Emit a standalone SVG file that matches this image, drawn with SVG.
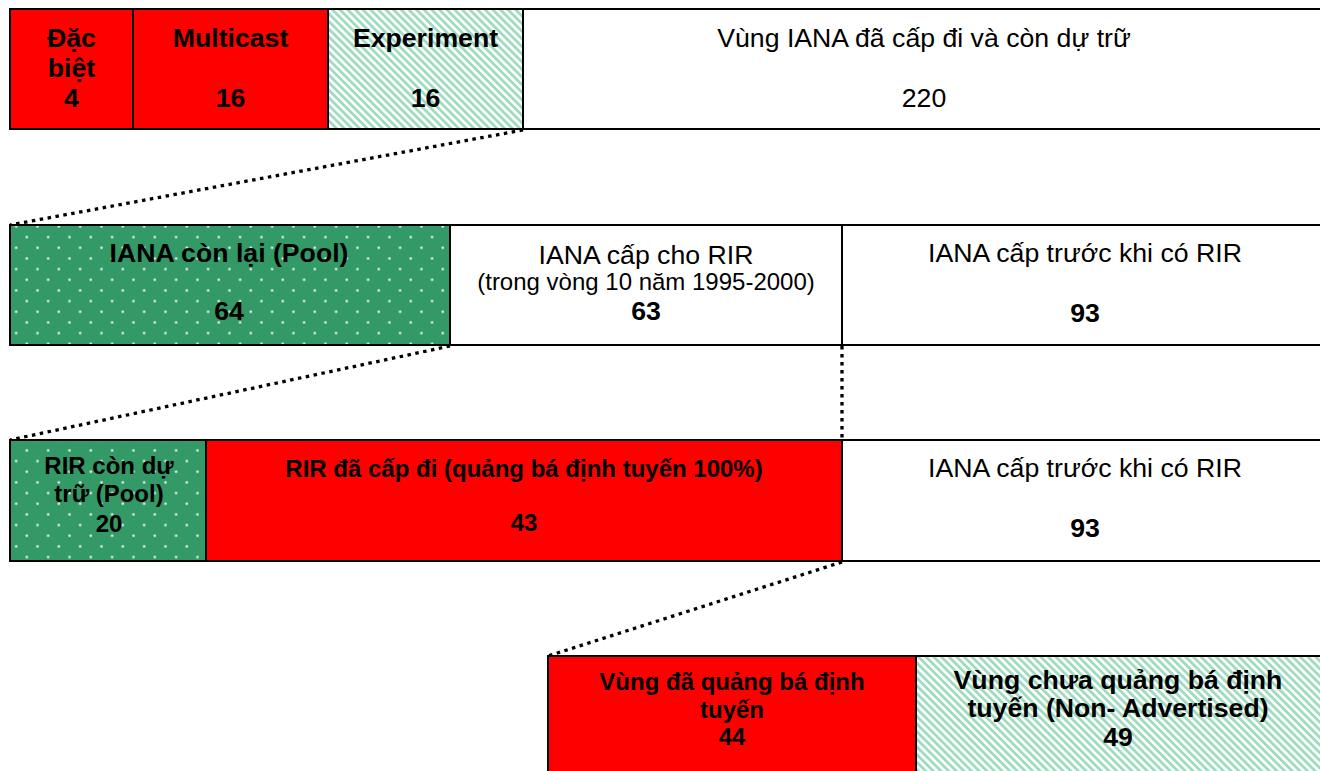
<svg xmlns="http://www.w3.org/2000/svg" width="1320" height="771" viewBox="0 0 1320 771">
<defs>
<pattern id="dots" width="21.33" height="21.33" patternUnits="userSpaceOnUse">
<rect width="21.33" height="21.33" fill="#339966"/>
<circle cx="5.5" cy="2.5" r="1.3" fill="#dff2e7"/>
<circle cx="16.17" cy="13.17" r="1.3" fill="#dff2e7"/>
</pattern>
<pattern id="hatch" width="5.4" height="5.4" patternUnits="userSpaceOnUse" patternTransform="rotate(-45)">
<rect width="5.4" height="5.4" fill="#ffffff"/>
<rect width="2.8" height="5.4" fill="#9fdcbf"/>
</pattern>
<style>
.box{stroke:#000;stroke-width:2}
.red{fill:#ff0000}
.white{fill:#ffffff}
.dot{fill:url(#dots)}
.hat{fill:url(#hatch)}
.b{font-family:"Liberation Sans",Arial,sans-serif;font-weight:bold;text-anchor:middle;fill:#000}
.r{font-family:"Liberation Sans",Arial,sans-serif;text-anchor:middle;fill:#000}
.f20{font-size:26.67px}
.f18{font-size:24px}
.conn{stroke:#000;stroke-width:3.3;stroke-dasharray:3.5 4.5;fill:none}
</style>
</defs>

<g id="connectors">
<line class="conn" x1="523" y1="130" x2="10" y2="225"/>
<line class="conn" x1="450" y1="346" x2="10" y2="440"/>
<line class="conn" x1="842" y1="346" x2="842" y2="440"/>
<line class="conn" x1="842" y1="562" x2="548" y2="656"/>
</g>

<!-- Row 1 -->
<g id="dac-biet">
<rect class="box red" x="10" y="9" width="123" height="120"/>
<text class="b f20" x="71.5" y="47">Đặc</text>
<text class="b f20" x="71.5" y="77">biệt</text>
<text class="b f20" x="71.5" y="107">4</text>
</g>
<g id="multicast">
<rect class="box red" x="133" y="9" width="195" height="120"/>
<text class="b f20" x="230.5" y="47">Multicast</text>
<text class="b f20" x="230.5" y="107">16</text>
</g>
<g id="experiment">
<rect class="box hat" x="328" y="9" width="195" height="120"/>
<text class="b f20" x="425.5" y="47">Experiment</text>
<text class="b f20" x="425.5" y="107">16</text>
</g>
<g id="iana-total">
<rect class="box white" x="523" y="9" width="810" height="120"/>
<text class="r f20" x="924" y="47">Vùng IANA đã cấp đi và còn dự trữ</text>
<text class="r f20" x="924" y="107">220</text>
</g>

<!-- Row 2 -->
<g id="iana-pool">
<rect class="box dot" x="10" y="225" width="440" height="120"/>
<text class="b f20" x="229" y="262">IANA còn lại (Pool)</text>
<text class="b f20" x="229" y="320">64</text>
</g>
<g id="iana-rir">
<rect class="box white" x="450" y="225" width="392" height="120"/>
<text class="r f20" x="646" y="264">IANA cấp cho RIR</text>
<text class="r f18" x="646" y="290">(trong vòng 10 năm 1995-2000)</text>
<text class="b f20" x="646" y="320">63</text>
</g>
<g id="iana-pre-rir">
<rect class="box white" x="842" y="225" width="490" height="120"/>
<text class="r f20" x="1085" y="262">IANA cấp trước khi có RIR</text>
<text class="b f20" x="1085" y="322">93</text>
</g>

<!-- Row 3 -->
<g id="rir-pool">
<rect class="box dot" x="10" y="440" width="196" height="121"/>
<text class="b f18" x="109" y="474">RIR còn dự</text>
<text class="b f18" x="109" y="502">trữ (Pool)</text>
<text class="b f18" x="109" y="532">20</text>
</g>
<g id="rir-allocated">
<rect class="box red" x="206" y="440" width="636" height="121"/>
<text class="b f18" x="524" y="477">RIR đã cấp đi (quảng bá định tuyến 100%)</text>
<text class="b f18" x="524" y="531">43</text>
</g>
<g id="iana-pre-rir-2">
<rect class="box white" x="842" y="440" width="490" height="121"/>
<text class="r f20" x="1085" y="477">IANA cấp trước khi có RIR</text>
<text class="b f20" x="1085" y="537">93</text>
</g>

<!-- Row 4 -->
<g id="advertised">
<rect class="box red" x="548" y="656" width="368" height="130"/>
<text class="b f18" x="732" y="690">Vùng đã quảng bá định</text>
<text class="b f18" x="732" y="718">tuyến</text>
<text class="b f18" x="732" y="745">44</text>
</g>
<g id="non-advertised">
<rect class="box hat" x="916" y="656" width="416" height="130"/>
<text class="b f20" x="1118" y="689">Vùng chưa quảng bá định</text>
<text class="b f20" x="1118" y="717">tuyến (Non- Advertised)</text>
<text class="b f20" x="1118" y="746">49</text>
</g>
</svg>
